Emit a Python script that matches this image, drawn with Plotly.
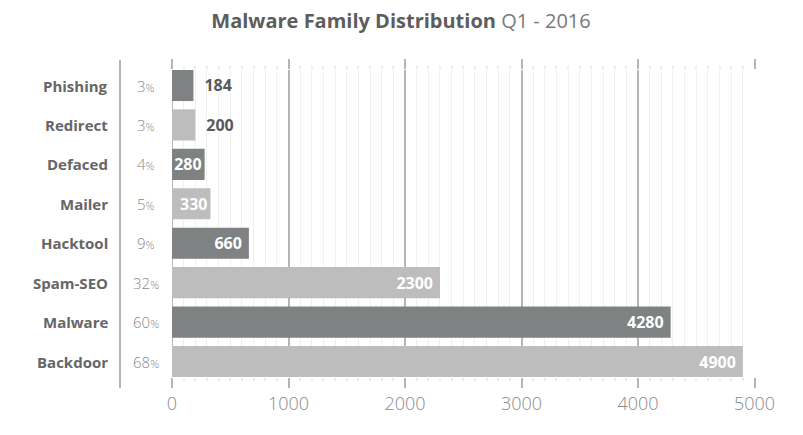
import plotly.graph_objects as go

families = ["Phishing", "Redirect", "Defaced", "Mailer", "Hacktool", "Spam-SEO", "Malware", "Backdoor"]
counts = [184, 200, 280, 330, 660, 2300, 4280, 4900]
shares = [3, 3, 4, 5, 9, 32, 60, 68]
x_ticks = [0, 1000, 2000, 3000, 4000, 5000]

dark, light = "#7f8282", "#bdbdbd"
bar_colors = [dark if i % 2 == 0 else light for i in range(len(families))]
positions = ["outside" if c < 250 else "inside" for c in counts]
texts = []
for c in counts:
    if c < 250:
        texts.append(f"\u2002{c}")
    elif c < 500:
        texts.append(str(c))
    else:
        texts.append(f"{c}\u2005")

# page body has an 8px margin, so figure coords = page coords - 8
OFF = 8
W, H = 803 - OFF, 435 - OFF
L, T = 172 - OFF, 70 - OFF
R = W - (755 - OFF)
B = H - (377 - OFF)
pw = W - L - R
ph = H - T - B


def px_x(page_x):
    return (page_x - 172) / pw


fig = go.Figure(
    go.Bar(
        x=counts,
        y=families,
        orientation="h",
        width=0.79,
        marker=dict(color=bar_colors, line_width=0),
        text=texts,
        textposition=positions,
        insidetextanchor="end",
        constraintext="none",
        cliponaxis=False,
        insidetextfont=dict(family="Open Sans", size=16, color="white", weight=700),
        outsidetextfont=dict(family="Open Sans", size=16, color="#5a5a5a", weight=700),
        hoverinfo="skip",
    )
)

# category names and percentage column to the left of the bars
for fam, sh in zip(families, shares):
    fig.add_annotation(
        x=px_x(110), xref="paper", y=fam, yref="y",
        text=fam, showarrow=False, xanchor="right",
        font=dict(family="Open Sans", size=15, color="#666666", weight=700),
    )
    fig.add_annotation(
        x=px_x(146), xref="paper", y=fam, yref="y",
        text=f"{sh}<span style='font-size:11px'>%</span>", showarrow=False,
        xanchor="center",
        font=dict(family="Open Sans", size=15, color="#8a8a8a", weight=300),
    )

# divider line between labels and percentages
fig.add_shape(
    type="line", xref="paper", yref="paper",
    x0=px_x(120), x1=px_x(120),
    y0=-(388 - 377) / ph, y1=1 + (70 - 60) / ph,
    line=dict(color="#b5b5b5", width=2),
)

fig.update_layout(
    width=W,
    height=H,
    margin=dict(l=L, r=R, t=T, b=B),
    plot_bgcolor="white",
    paper_bgcolor="white",
    showlegend=False,
    title=dict(
        text="<b>Malware Family Distribution</b> <span style='color:#7a7a7a'>Q1 - 2016</span>",
        x=(401 - OFF) / W, xanchor="center", y=1 - (21 - OFF) / H, yanchor="middle",
        font=dict(family="Open Sans", size=20, color="#5d5d5d"),
    ),
    xaxis=dict(
        range=[0, 5004],
        tickvals=x_ticks,
        showgrid=True,
        gridcolor="#b5b5b5",
        gridwidth=2,
        zeroline=True,
        zerolinecolor="#b8b8b8",
        zerolinewidth=1,
        ticks="outside",
        ticklen=10,
        tickwidth=2,
        tickcolor="#b5b5b5",
        mirror="ticks",
        showline=False,
        tickfont=dict(family="Open Sans", size=18, color="#8a8a8a", weight=300),
        minor=dict(
            dtick=100, showgrid=True, gridcolor="#f0f0f0", gridwidth=1,
            ticks="outside", ticklen=3, tickcolor="#ececec",
        ),
    ),
    yaxis=dict(
        type="category",
        categoryorder="array",
        categoryarray=families,
        range=[7.393, -0.393],
        showticklabels=False,
        showgrid=False,
        zeroline=False,
        showline=False,
    ),
)

fig.write_html("out.html")
